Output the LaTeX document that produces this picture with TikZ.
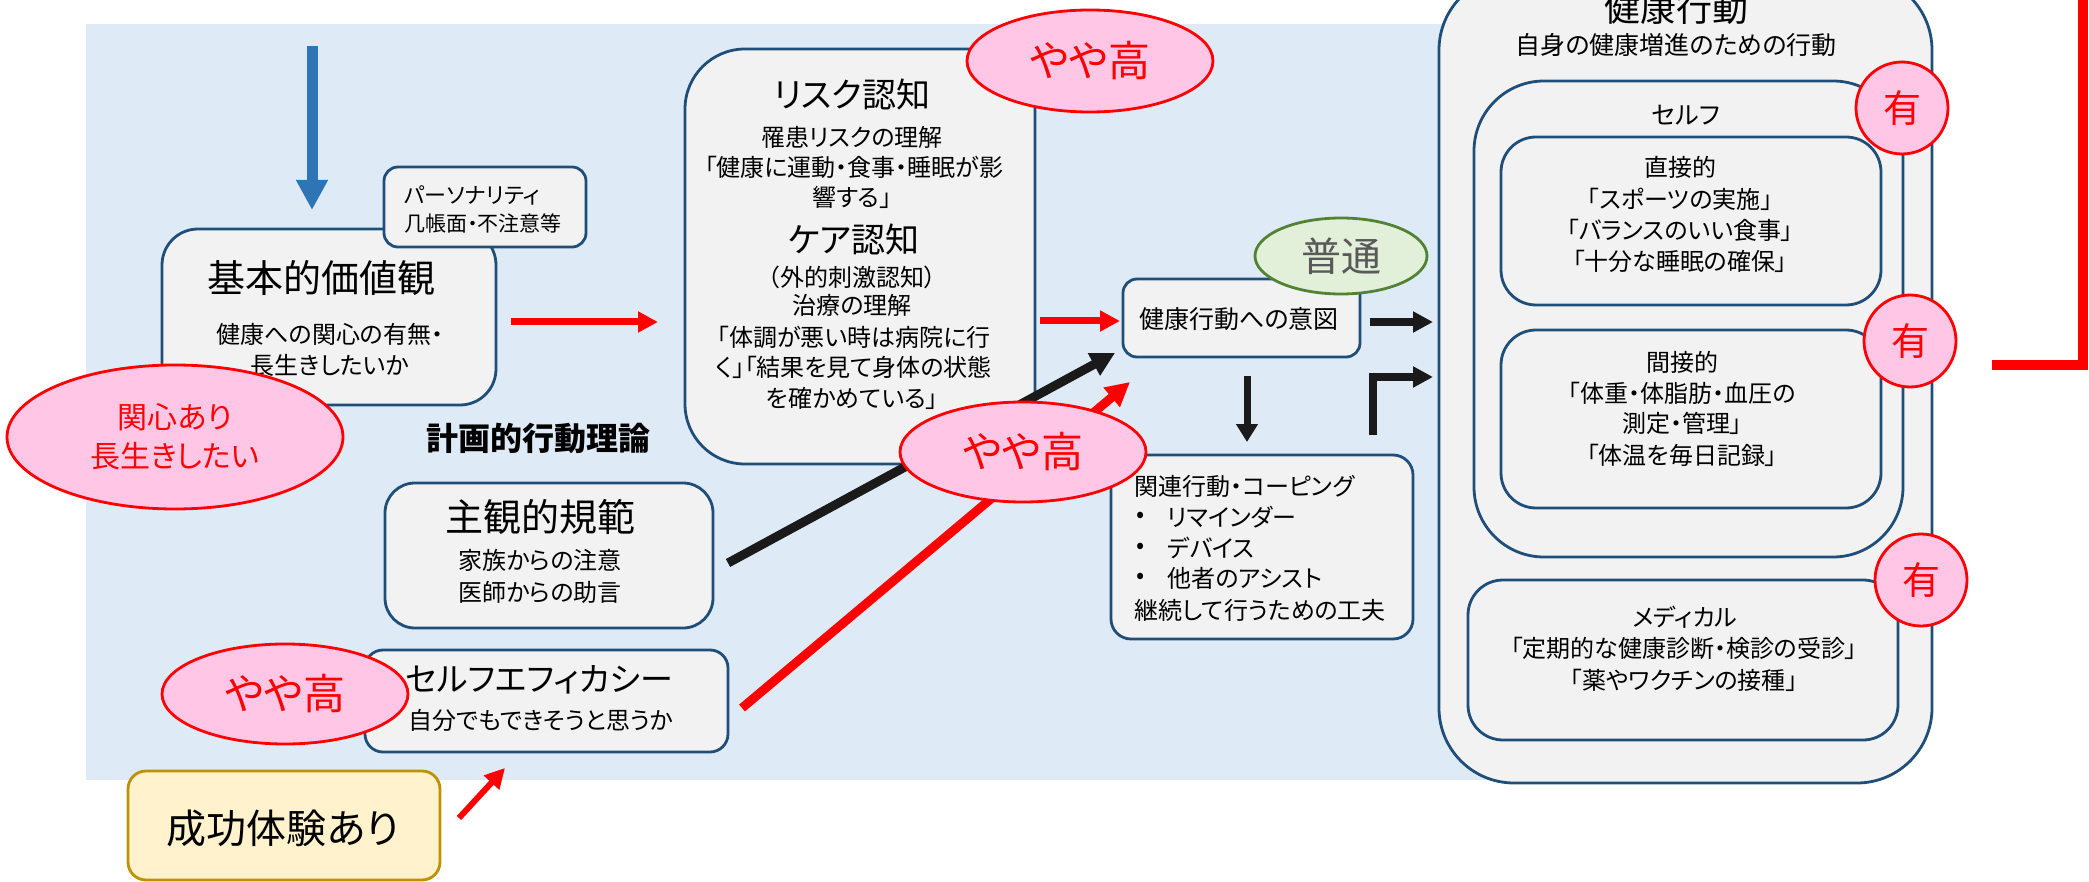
\documentclass[tikz,border=0pt]{standalone}
\usepackage{fontspec}
\setmainfont{Noto Sans CJK JP}[RawFeature=+palt]
\usetikzlibrary{arrows.meta,shapes.geometric}
\definecolor{bgblue}{HTML}{DEEBF7}
\definecolor{boxfill}{HTML}{F2F2F2}
\definecolor{boxline}{HTML}{1F4E79}
\definecolor{pinkfill}{HTML}{FFC7E5}
\definecolor{redline}{HTML}{FF0000}
\definecolor{greenfill}{HTML}{E2F0D9}
\definecolor{greenline}{HTML}{548235}
\definecolor{graytext}{HTML}{595959}
\definecolor{yellowfill}{HTML}{FFF2CC}
\definecolor{goldline}{HTML}{BF9000}
\definecolor{bluearrow}{HTML}{2E75B6}
\definecolor{blackarrow}{HTML}{1A1A1A}
\newcommand{\fsz}[1]{\fontsize{#1}{#1}\selectfont}
\begin{document}
\begin{tikzpicture}[x=0.5pt,y=-0.5pt,
  box/.style={draw=boxline, fill=boxfill, line width=1.4pt, inner sep=0pt},
  oval/.style={ellipse, draw=redline, fill=pinkfill, line width=1.4pt, inner sep=0pt, text=redline},
  txt/.style={inner sep=0pt, font=\fsz{12}},
  ttl/.style={inner sep=0pt, font=\fsz{18}},
  redarr/.style={draw=redline, line width=3.5pt, -{Triangle[length=10pt,width=10pt]}},
  blkarr/.style={draw=blackarrow, line width=4pt, line join=miter, -{Triangle[length=10pt,width=10pt]}}
]
\useasboundingbox (0,0) rectangle (2089,882);
\clip (0,0) rectangle (2089,882);

% background panel
\node[fill=bgblue, minimum width=894.5pt, minimum height=378pt, inner sep=0pt] (panel) at (980.5,402) {};

% health behaviour
\node[box, rounded corners=37.5pt, minimum width=246.5pt, minimum height=404pt] (health) at (1685.5,379) {};
\node[ttl] (healthT) at (1676,8) {健康行動};
\node[txt, font=\fsz{12.5}] (healthS) at (1676,45) {自身の健康増進のための行動};
\node[box, rounded corners=35pt, minimum width=214.5pt, minimum height=238pt] (selfb) at (1688.5,319) {};
\node[txt, font=\fsz{12.5}] (selfT) at (1686,115) {セルフ};
\node[box, rounded corners=17.5pt, minimum width=190pt, minimum height=84pt] (direct) at (1691,221) {};
\node[txt] (d1) at (1680,167) {直接的};
\node[txt] (d2) at (1680,199) {「スポーツの実施」};
\node[txt] (d3) at (1680,230) {「バランスのいい食事」};
\node[txt] (d4) at (1680,261) {「十分な睡眠の確保」};
\node[box, rounded corners=17.5pt, minimum width=190pt, minimum height=89pt] (indirect) at (1691,419) {};
\node[txt] (i1) at (1682,362) {間接的};
\node[txt] (i2) at (1682,393) {「体重・体脂肪・血圧の};
\node[txt] (i3) at (1682,423) {測定・管理」};
\node[txt] (i4) at (1682,455) {「体温を毎日記録」};
\node[box, rounded corners=17.5pt, minimum width=215pt, minimum height=80pt] (medical) at (1683,660) {};
\node[txt] (m1) at (1685,617) {メディカル};
\node[txt] (m2) at (1684,648) {「定期的な健康診断・検診の受診」};
\node[txt] (m3) at (1684,680) {「薬やワクチンの接種」};

% risk / care
\node[box, rounded corners=30pt, minimum width=175pt, minimum height=207.5pt] (risk) at (860,256.5) {};
\node[ttl, font=\fsz{17}] (r1) at (852,95) {リスク認知};
\node[txt] (r2) at (852,137) {罹患リスクの理解};
\node[txt] (r3) at (854,167) {「健康に運動・食事・睡眠が影};
\node[txt] (r4) at (852,197) {響する」};
\node[ttl, font=\fsz{17}] (r5) at (854,240) {ケア認知};
\node[txt] (r6) at (852,277) {（外的刺激認知）};
\node[txt] (r7) at (852,305) {治療の理解};
\node[txt] (r8) at (854,337) {「体調が悪い時は病院に行};
\node[txt] (r9) at (854,367) {く」「結果を見て身体の状態};
\node[txt] (r10) at (852,398) {を確かめている」};

% intention
\node[box, rounded corners=7pt, minimum width=118.5pt, minimum height=39pt] (intent) at (1241.5,318) {};
\node[txt, font=\fsz{12.5}] (intentT) at (1239,319) {健康行動への意図};

% related behaviour
\node[box, rounded corners=10pt, minimum width=151pt, minimum height=92pt] (kanren) at (1262,547) {};
\node[txt, anchor=west] (k1) at (1134,486) {関連行動・コーピング};
\node[txt, anchor=west] (k2b) at (1136,517) {•};
\node[txt, anchor=west] (k2) at (1167,517) {リマインダー};
\node[txt, anchor=west] (k3b) at (1136,548) {•};
\node[txt, anchor=west] (k3) at (1167,548) {デバイス};
\node[txt, anchor=west] (k4b) at (1136,578) {•};
\node[txt, anchor=west] (k4) at (1167,578) {他者のアシスト};
\node[txt, anchor=west] (k5) at (1134,610) {継続して行うための工夫};

% subjective norm
\node[box, rounded corners=15pt, minimum width=164pt, minimum height=72.5pt] (shukan) at (549,555.5) {};
\node[ttl, font=\fsz{19}] (s1) at (540,517) {主観的規範};
\node[txt] (s2) at (540,560) {家族からの注意};
\node[txt] (s3) at (540,592) {医師からの助言};

% self efficacy
\node[box, rounded corners=9pt, minimum width=181.5pt, minimum height=51pt] (selfeff) at (546.5,701) {};
\node[ttl, font=\fsz{16.5}] (e1) at (539,680) {セルフエフィカシー};
\node[txt] (e2) at (541,720) {自分でもできそうと思うか};

% success experience
\node[box, draw=goldline, fill=yellowfill, rounded corners=9pt, minimum width=156pt, minimum height=54.5pt] (seiko) at (284,825.5) {};
\node[ttl, font=\fsz{20}] (seikoT) at (283,828) {成功体験あり};

% basic values
\node[box, rounded corners=18pt, minimum width=167pt, minimum height=88pt] (kihon) at (329,317) {};
\node[ttl, font=\fsz{19}] (kihonT) at (321,278) {基本的価値観};
\node[txt] (kihonS1) at (330,334) {健康への関心の有無・};
\node[txt] (kihonS2) at (330,365) {長生きしたいか};

% personality
\node[box, rounded corners=7pt, minimum width=101pt, minimum height=40pt] (pers) at (485,207) {};
\node[txt, font=\fsz{11}, anchor=west] (p1) at (404,195) {パーソナリティ};
\node[txt, font=\fsz{10.5}, anchor=west] (p2) at (404,223) {几帳面・不注意等};

% theory label
\node[inner sep=0pt, font=\fsz{16}\bfseries] (theory) at (538,438) {計画的行動理論};

% connector end points
\coordinate (blueS) at (312,46);
\coordinate (blueE) at (312,210);
\coordinate (a1s) at (511,322);
\coordinate (a1e) at (658,322);
\coordinate (a2s) at (1040,321);
\coordinate (a2e) at (1120,321);
\coordinate (a3s) at (1370,322);
\coordinate (a3e) at (1433,322);
\coordinate (a4s) at (1247,376);
\coordinate (a4e) at (1247,442);
\coordinate (a5s) at (1373,435);
\coordinate (a5e) at (1433,377);
\coordinate (a6s) at (728,563);
\coordinate (a6e) at (1115,353);
\coordinate (a7s) at (742,708);
\coordinate (a7e) at (1130,382);
\coordinate (a8s) at (459,818);
\coordinate (a8e) at (505,768);
\coordinate (rlS) at (2083,-20);
\coordinate (rlM) at (2083,365);
\coordinate (rlE) at (1992,365);

% connectors
\draw[draw=bluearrow, line width=5.5pt, -{Triangle[length=15pt,width=15pt]}] (blueS) -- (blueE);
\draw[redarr] (a1s) -- (a1e);
\draw[redarr] (a2s) -- (a2e);
\draw[blkarr] (a3s) -- (a3e);
\draw[blkarr, line width=3.5pt, -{Triangle[length=9pt,width=10.5pt]}] (a4s) -- (a4e);
\draw[blkarr] (a5s) |- (a5e);
\draw[blkarr, line width=4.5pt, -{Triangle[length=12pt,width=12pt]}] (a6s) -- (a6e);
\draw[redarr, line width=4.5pt, -{Triangle[length=12pt,width=12pt]}] (a7s) -- (a7e);
\draw[redarr, line width=3pt] (a8s) -- (a8e);
\draw[draw=redline, line width=4.75pt, line join=miter] (rlS) -- (rlM) -- (rlE);

% ellipses
\node[oval, minimum width=168pt, minimum height=72pt, font=\fontsize{15}{19.5}\selectfont, align=center] (kanshin) at (175,437) {関心あり\\長生きしたい};
\node[oval, minimum width=123pt, minimum height=51pt, font=\fsz{21}] (yayaTop) at (1090,61) {やや高};
\node[oval, minimum width=123pt, minimum height=50pt, font=\fsz{21}] (yayaMid) at (1023,452) {やや高};
\node[oval, minimum width=123pt, minimum height=50pt, font=\fsz{21}] (yayaLeft) at (285,694) {やや高};
\node[ellipse, draw=greenline, fill=greenfill, line width=1.4pt, inner sep=0pt, minimum width=86pt, minimum height=38pt, text=graytext, font=\fsz{20}] (futsuu) at (1341,256) {普通};
\node[oval, minimum width=46pt, minimum height=46pt, font=\fsz{19}] (yu1) at (1902,108) {有};
\node[oval, minimum width=46pt, minimum height=46pt, font=\fsz{19}] (yu2) at (1910,341) {有};
\node[oval, minimum width=46pt, minimum height=46pt, font=\fsz{19}] (yu3) at (1921,580) {有};
\end{tikzpicture}
\end{document}
